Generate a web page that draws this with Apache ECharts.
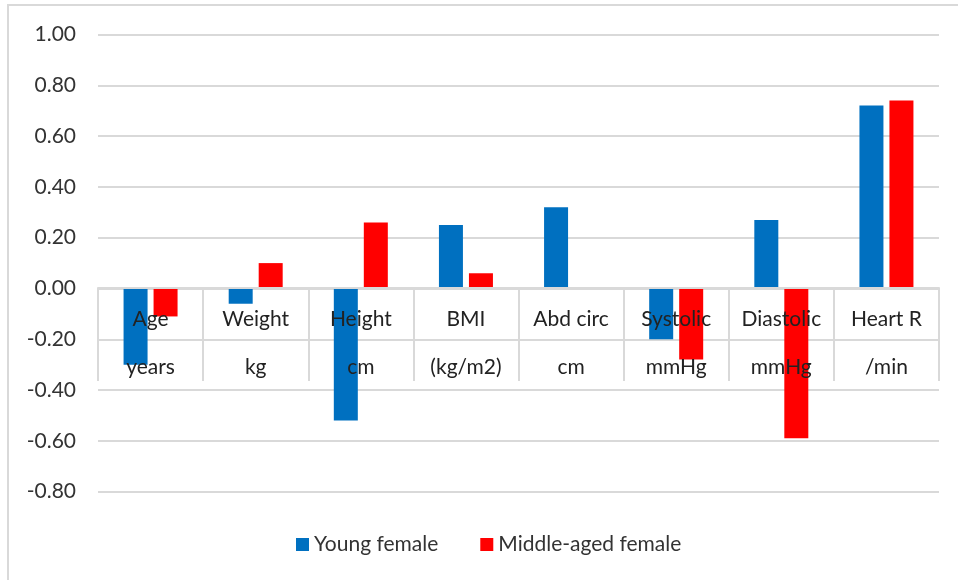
<!DOCTYPE html>
<html>
<head>
<meta charset="utf-8">
<script src="https://cdn.jsdelivr.net/npm/echarts@6/dist/echarts.min.js"></script>
<style>
  html, body { margin: 0; padding: 0; background: #fff; }
  #chart { width: 958px; height: 580px; }
</style>
</head>
<body>
<div id="chart"></div>
<script>
// category names (top row) and units (bottom row)
var categories = ['Age', 'Weight', 'Height', 'BMI', 'Abd circ', 'Systolic', 'Diastolic', 'Heart R']
var units = ['years', 'kg', 'cm', '(kg/m2)', 'cm', 'mmHg', 'mmHg', '/min']
var youngFemale = [-0.30, -0.06, -0.52, 0.25, 0.32, -0.20, 0.27, 0.72]
var middleAgedFemale = [-0.11, 0.10, 0.26, 0.06, 0, -0.28, -0.59, 0.74]

var labels = categories.map(function (c, i) { return c + '\n' + units[i] })
var font = 'Lato, "Open Sans", sans-serif'

var chart = echarts.init(document.getElementById('chart'))
chart.setOption({
  animation: false,
  textStyle: { fontFamily: font },
  graphic: [{
    type: 'rect',
    shape: { x: 8, y: 5, width: 980, height: 600 },
    style: { fill: 'none', stroke: '#d9d9d9', lineWidth: 2 },
    silent: true
  }],
  grid: {
    left: 98,
    right: 19,
    top: 34.5,
    bottom: 88.3,
    outerBoundsMode: 'none'
  },
  legend: {
    data: ['Young female', 'Middle-aged female'],
    left: 291,
    top: 529,
    itemWidth: 13,
    itemHeight: 13,
    itemGap: 42,
    itemStyle: { borderWidth: 0 },
    icon: 'rect',
    textStyle: { fontSize: 21, color: '#333', fontFamily: font }
  },
  xAxis: {
    type: 'category',
    data: labels,
    z: 10,
    position: 'bottom',
    // the axis sits on the zero line (0.00 is 4/9 of the way up from the bottom)
    offset: -203.7,
    axisLine: { onZero: false, lineStyle: { color: '#d9d9d9', width: 2 } },
    axisTick: {
      show: true,
      interval: 0,
      alignWithLabel: false,
      length: 93,
      lineStyle: { color: '#d9d9d9', width: 2 }
    },
    axisLabel: {
      interval: 0,
      margin: 7,
      fontSize: 21,
      lineHeight: 48,
      color: '#222',
      fontFamily: font
    },
    splitLine: { show: false }
  },
  yAxis: {
    type: 'value',
    min: -0.8,
    max: 1.0,
    interval: 0.2,
    axisLine: { show: false },
    axisTick: { show: false },
    axisLabel: {
      margin: 22,
      fontSize: 21,
      color: '#333',
      fontFamily: font,
      formatter: function (v) { return v.toFixed(2) }
    },
    splitLine: { lineStyle: { color: '#d9d9d9', width: 2 } }
  },
  series: [
    {
      name: 'Young female',
      type: 'bar',
      data: youngFemale,
      barWidth: 24,
      barGap: '25%',
      itemStyle: { color: '#0070c0' }
    },
    {
      name: 'Middle-aged female',
      type: 'bar',
      data: middleAgedFemale,
      barWidth: 24,
      itemStyle: { color: '#ff0000' }
    }
  ]
})
</script>
</body>
</html>
